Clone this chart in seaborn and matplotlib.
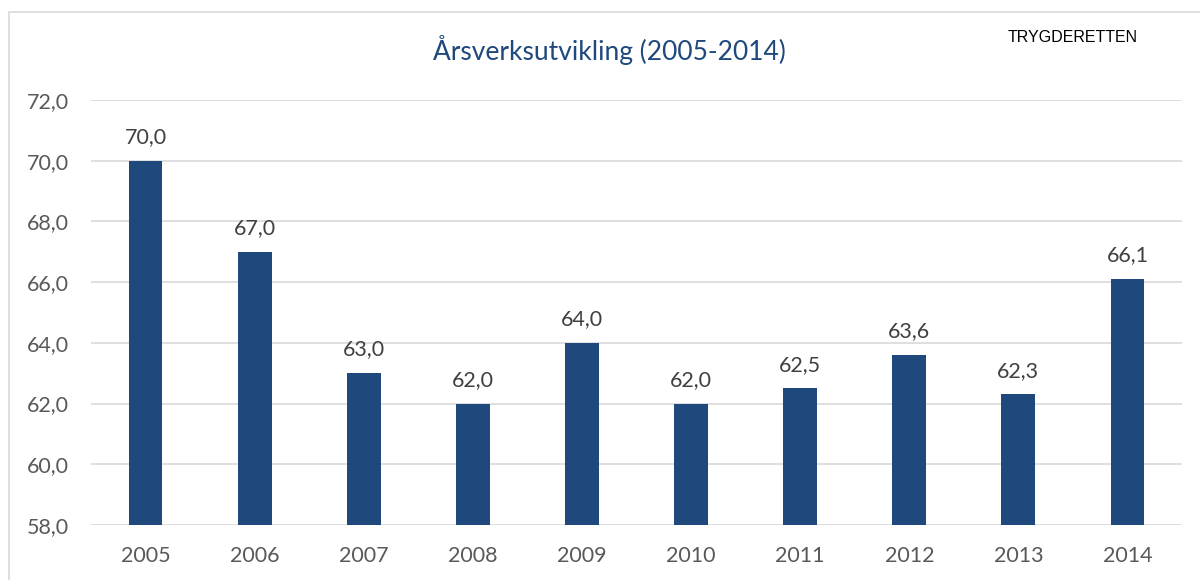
import matplotlib
matplotlib.use("Agg")
import matplotlib.pyplot as plt
import matplotlib.patches as mpatches
import seaborn as sns
import pandas as pd

years = ["2005", "2006", "2007", "2008", "2009", "2010", "2011", "2012", "2013", "2014"]
values = [70.0, 67.0, 63.0, 62.0, 64.0, 62.0, 62.5, 63.6, 62.3, 66.1]
yticks = [58, 60, 62, 64, 66, 68, 70, 72]
title = "Årsverksutvikling (2005-2014)"
corner = "TRYGDERETTEN"

sns.set_theme(style="white")
plt.rcParams['font.family'] = ['Lato', 'DejaVu Sans']

df = pd.DataFrame({"year": years, "value": values})

fig = plt.figure(figsize=(12, 5.8), dpi=100)
ax = fig.add_axes([91/1200, 1 - 525/580, (1182 - 91)/1200, (525 - 100)/580])

bar_color = "#1F497D"
sns.barplot(data=df, x="year", y="value", color=bar_color, width=0.31,
            saturation=1, ax=ax, zorder=3, edgecolor=bar_color, linewidth=0)

ax.set_ylim(58, 72)
ax.set_yticks(yticks)
ax.set_yticklabels([f"{v:.1f}".replace(".", ",") for v in yticks])
ax.yaxis.grid(True, color="#D9D9D9", linewidth=1.2, zorder=0)
ax.xaxis.grid(False)
for s in ax.spines.values():
    s.set_visible(False)
ax.set_xlabel("")
ax.set_ylabel("")
ax.tick_params(axis="both", length=0, labelsize=15.5, colors="#595959")
ax.tick_params(axis="y", pad=16)
ax.tick_params(axis="x", pad=15)

for i, v in enumerate(values):
    ax.text(i, v + 0.45, f"{v:.1f}".replace(".", ","), ha="center", va="bottom",
            fontsize=15.5, color="#404040")

fig.text(609/1200, 1 - 50/580, title, ha="center", va="center", fontsize=19,
         color="#1F497D")
fig.text(1073/1200, 1 - 37/580, corner, ha="center", va="center", fontsize=11.5,
         color="#000000", family=["Liberation Sans", "DejaVu Sans"])

border = mpatches.Rectangle((8.5/1200, -0.1), 1.2, 1 - 11.5/580 + 0.1,
                            transform=fig.transFigure, fill=False,
                            edgecolor="#D9D9D9", linewidth=1.2, clip_on=False)
fig.patches.append(border)

fig.savefig("out.png", dpi=100, facecolor="white")
